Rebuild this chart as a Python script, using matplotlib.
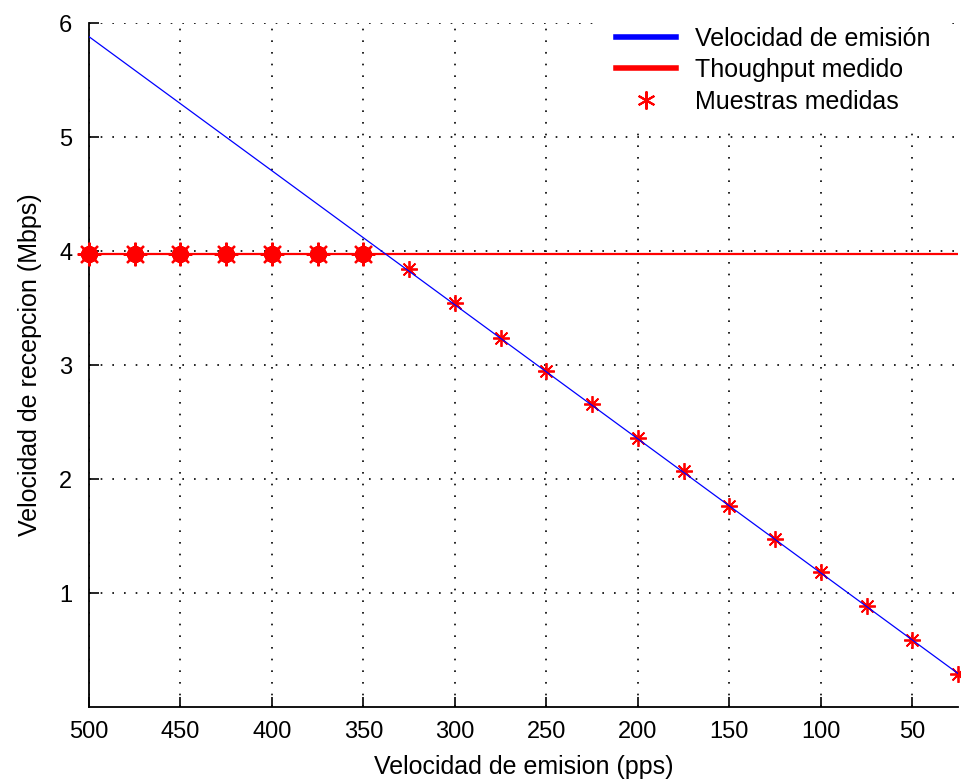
import matplotlib
matplotlib.use("Agg")
import matplotlib.pyplot as plt
import numpy as np

plt.rcParams["font.family"] = ["Liberation Sans", "DejaVu Sans"]

# emission rate (pps) and measured throughput (Mbps)
pps = [500, 475, 450, 425, 400, 375, 350, 325, 300, 275,
       250, 225, 200, 175, 150, 125, 100, 75, 50, 25]
emitted_mbps = [5.88, 5.586, 5.292, 4.998, 4.704, 4.41, 4.116, 3.822, 3.528, 3.234,
                2.94, 2.646, 2.352, 2.058, 1.764, 1.47, 1.176, 0.882, 0.588, 0.294]
measured_mbps = [3.97, 3.97, 3.97, 3.97, 3.97, 3.97, 3.97, 3.84, 3.54, 3.24,
                 2.95, 2.66, 2.36, 2.07, 1.76, 1.47, 1.18, 0.89, 0.59, 0.29]
throughput = 3.97

xticks = [500, 450, 400, 350, 300, 250, 200, 150, 100, 50]
yticks = [1, 2, 3, 4, 5, 6]

fig = plt.figure(figsize=(9.61, 7.80), dpi=100)
ax = fig.add_axes([89 / 961, 1 - 707 / 780, (958 - 89) / 961, (707 - 23) / 780])

sat = [i for i, v in enumerate(measured_mbps) if v >= throughput]
lin = [i for i, v in enumerate(measured_mbps) if v < throughput]

# saturated samples look like heavy spiky blobs in the original
sx = [pps[i] for i in sat]
sy = [measured_mbps[i] for i in sat]
ax.plot(sx, sy, linestyle="none", marker=(8, 2, 0), markersize=17,
        markeredgewidth=1.6, color="red", zorder=3, clip_on=False)
ax.plot(sx, sy, linestyle="none", marker=(8, 2, 22.5), markersize=12,
        markeredgewidth=3, color="red", zorder=3, clip_on=False)
ax.plot([pps[i] for i in lin], [measured_mbps[i] for i in lin], linestyle="none",
        marker=(8, 2, 0), markersize=12, markeredgewidth=1.3, color="red",
        zorder=3, clip_on=False)
ax.axhline(throughput, color="red", lw=1.6, zorder=2)
ax.plot(pps, emitted_mbps, color="blue", lw=0.9, zorder=4)

ax.set_xlim(500, 25)
ax.set_ylim(0, 6)
ax.set_xticks(xticks)
ax.set_yticks(yticks)
ax.tick_params(direction="in", length=7, width=1.2, labelsize=17, colors="black")
ax.tick_params(axis="x", pad=10)
ax.tick_params(axis="y", pad=12)

ax.grid(True, color="black", linestyle=(0, (1, 6)), lw=1.2)
ax.set_axisbelow(True)
for s in ["top", "right"]:
    ax.spines[s].set_visible(False)
for s in ["left", "bottom"]:
    ax.spines[s].set_linewidth(1.3)

ax.set_xlabel("Velocidad de emision (pps)", fontsize=18, labelpad=9)
ax.set_ylabel("Velocidad de recepcion (Mbps)", fontsize=18, labelpad=12)

# legend handles
h1, = ax.plot([], [], color="blue", lw=4)
h2, = ax.plot([], [], color="red", lw=4)
h3, = ax.plot([], [], linestyle="none", marker=(6, 2, 0), markersize=13,
              markeredgewidth=1.5, color="red")
leg = ax.legend([h1, h2, h3], ["Velocidad de emisión", "Thoughput medido", "Muestras medidas"],
                loc="upper right", bbox_to_anchor=(1.0, 1.035), fontsize=18,
                frameon=True, fancybox=False, handlelength=2.4, labelspacing=0.3,
                borderpad=0.6, handletextpad=0.75)
leg.get_frame().set_edgecolor("white")
leg.get_frame().set_facecolor("white")
leg.get_frame().set_alpha(1)

fig.savefig("out.png", dpi=100)
